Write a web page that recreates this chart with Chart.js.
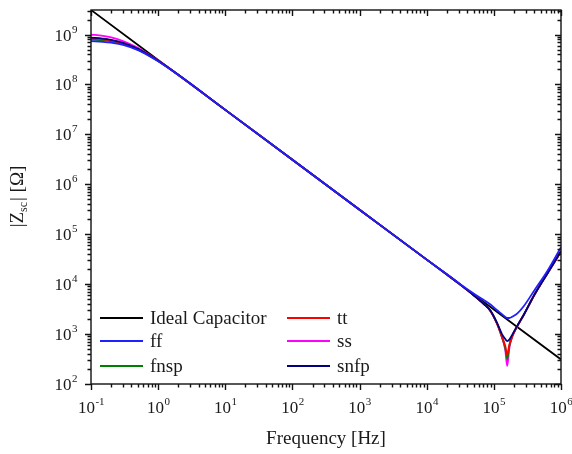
<!DOCTYPE html>
<html>
<head>
<meta charset="utf-8">
<script src="https://cdn.jsdelivr.net/npm/chart.js@4"></script>
<style>
  html, body { margin: 0; padding: 0; background: #fff; }
  canvas { display: block; }
</style>
</head>
<body>
<canvas id="zChart" width="572" height="454"></canvas>
<script>
// frequencies (Hz) shared by the measured curves
const freq = [0.1, 0.15, 0.2, 0.3, 0.5, 0.7, 1, 2, 10, 100, 1000, 1e4, 2e4, 3.16e4, 5e4, 7.1e4, 8.9e4,
    1.12e5, 1.32e5, 1.48e5, 1.58e5, 1.7e5, 1.9e5, 2.24e5, 2.82e5, 3.98e5, 6.3e5, 1e6];

// |Zsc| in ohm
const zTT = [8.4e8, 8.05e8, 7.6e8, 6.7e8, 5.1e8, 4.0e8, 2.97e8, 1.55e8, 3.1e7, 3.1e6, 3.1e5, 3.1e4, 1.56e4, 9.8e3, 6.0e3, 4.0e3, 2.9e3,
    1.6e3, 890, 575, 380, 615, 930, 1.45e3, 2.5e3, 6.0e3, 1.66e4, 4.5e4];
const zFF = [7.4e8, 7.15e8, 6.85e8, 6.2e8, 4.87e8, 3.87e8, 2.92e8, 1.55e8, 3.1e7, 3.1e6, 3.1e5, 3.1e4, 1.58e4, 1.0e4, 6.5e3, 4.8e3, 3.9e3,
    3.0e3, 2.5e3, 2.2e3, 2.1e3, 2.1e3, 2.25e3, 2.6e3, 3.7e3, 7.4e3, 1.86e4, 5.5e4];
const zSS = [1.0e9, 9.4e8, 8.75e8, 7.4e8, 5.4e8, 4.1e8, 3.03e8, 1.56e8, 3.1e7, 3.1e6, 3.1e5, 3.1e4, 1.56e4, 9.8e3, 6.0e3, 4.0e3, 2.9e3,
    1.6e3, 850, 480, 230, 525, 930, 1.45e3, 2.5e3, 6.0e3, 1.66e4, 4.5e4];
const zFNSP = [7.9e8, 7.6e8, 7.3e8, 6.5e8, 5.0e8, 3.95e8, 2.95e8, 1.55e8, 3.1e7, 3.1e6, 3.1e5, 3.1e4, 1.56e4, 9.8e3, 6.0e3, 4.0e3, 2.9e3,
    1.6e3, 870, 520, 316, 575, 930, 1.45e3, 2.5e3, 6.0e3, 1.66e4, 4.5e4];
const zSNFP = [8.65e8, 8.3e8, 7.8e8, 6.8e8, 5.15e8, 4.03e8, 2.98e8, 1.56e8, 3.1e7, 3.1e6, 3.1e5, 3.1e4, 1.56e4, 9.8e3, 6.0e3, 4.0e3, 2.95e3,
    1.66e3, 1.0e3, 795, 725, 775, 1.0e3, 1.48e3, 2.5e3, 6.0e3, 1.66e4, 4.6e4];

// ideal capacitor: straight line, one point per decade
const capFreq = [0.1, 1, 10, 100, 1000, 1e4, 1e5, 1e6];
const capZ = [3.1e9, 3.1e8, 3.1e7, 3.1e6, 3.1e5, 3.1e4, 3.1e3, 310];

// axis ticks (powers of ten)
const xTickExp = [-1, 0, 1, 2, 3, 4, 5, 6];
const yTickExp = [2, 3, 4, 5, 6, 7, 8, 9];

// legend order: first column, then second column
const legendOrder = ["Ideal Capacitor", "ff", "fnsp", "tt", "ss", "snfp"];

function pares(xs, ys) {
    return xs.map(function (x, i) { return { x: x, y: ys[i] }; });
}

function serie(label, xs, ys, cor) {
    return {
        label: label,
        data: pares(xs, ys),
        borderColor: cor,
        backgroundColor: cor,
        borderWidth: 1.8,
        pointRadius: 0,
        fill: false,
        cubicInterpolationMode: "monotone"
    };
}

const SERIF = '"Liberation Serif", "Times New Roman", serif';
const TEXT = "#1a1a1a";

// frame, ticks, tick labels and titles
const eixos = {
    id: "eixos",
    afterDatasetsDraw: function (chart) {
        const ctx = chart.ctx;
        const a = chart.chartArea;
        const sx = chart.scales.x;
        const sy = chart.scales.y;

        ctx.save();
        ctx.strokeStyle = "#111";
        ctx.lineWidth = 1.4;
        ctx.strokeRect(a.left, a.top, a.right - a.left, a.bottom - a.top);

        ctx.beginPath();
        // x ticks: out at bottom, in at top
        for (let d = -1; d <= 6; d++) {
            for (let k = 1; k <= 9; k++) {
                const v = k * Math.pow(10, d);
                if (v > sx.max * 1.0001) break;
                const px = Math.round(sx.getPixelForValue(v)) + 0.5;
                const len = k === 1 ? 6 : 3.5;
                ctx.moveTo(px, a.bottom);
                ctx.lineTo(px, a.bottom + len);
                ctx.moveTo(px, a.top);
                ctx.lineTo(px, a.top + len);
            }
        }
        // y ticks: out at left, in at right
        for (let d = 2; d <= 9; d++) {
            for (let k = 1; k <= 9; k++) {
                const v = k * Math.pow(10, d);
                if (v > sy.max * 1.0001) break;
                const py = Math.round(sy.getPixelForValue(v)) + 0.5;
                const len = k === 1 ? 6 : 3.5;
                ctx.moveTo(a.left - len, py);
                ctx.lineTo(a.left, py);
                ctx.moveTo(a.right - len, py);
                ctx.lineTo(a.right, py);
            }
        }
        ctx.stroke();

        ctx.fillStyle = TEXT;
        ctx.textBaseline = "alphabetic";
        const baseFont = "17px " + SERIF;
        const expFont = "11px " + SERIF;

        function larguraPotencia(e) {
            ctx.font = baseFont;
            const wb = ctx.measureText("10").width;
            ctx.font = expFont;
            const we = ctx.measureText(e < 0 ? "-" + (-e) : String(e)).width;
            return [wb, we];
        }

        function potencia(e, x, y) {
            const w = larguraPotencia(e);
            ctx.textAlign = "left";
            ctx.font = baseFont;
            ctx.fillText("10", x, y);
            ctx.font = expFont;
            ctx.fillText(e < 0 ? "-" + (-e) : String(e), x + w[0] + 0.5, y - 8);
        }

        xTickExp.forEach(function (e) {
            const px = sx.getPixelForValue(Math.pow(10, e));
            const w = larguraPotencia(e);
            potencia(e, px - (w[0] + w[1]) / 2, 413);
        });

        yTickExp.forEach(function (e) {
            const py = sy.getPixelForValue(Math.pow(10, e));
            const w = larguraPotencia(e);
            potencia(e, 77 - (w[0] + w[1]), py + 6);
        });

        // x title
        ctx.font = "19px " + SERIF;
        ctx.textAlign = "center";
        ctx.fillText("Frequency [Hz]", (a.left + a.right) / 2, 444);

        // y title |Zsc| [Ω]
        ctx.translate(23, 197);
        ctx.rotate(-Math.PI / 2);
        const big = "19px " + SERIF;
        const small = "12px " + SERIF;
        ctx.font = big;
        const w1 = ctx.measureText("|Z").width;
        const w3 = ctx.measureText("| [\u03A9]").width;
        ctx.font = small;
        const w2 = ctx.measureText("sc").width;
        let x0 = -(w1 + w2 + w3) / 2;
        ctx.textAlign = "left";
        ctx.font = big;
        ctx.fillText("|Z", x0, 0);
        ctx.font = small;
        ctx.fillText("sc", x0 + w1, 4);
        ctx.font = big;
        ctx.fillText("| [\u03A9]", x0 + w1 + w2 + 1, 0);
        ctx.restore();
    }
};

// legend inside the plot, two columns of three rows
const legenda = {
    id: "legenda",
    afterDraw: function (chart) {
        const ctx = chart.ctx;
        const colX = [100, 287];
        const rowY = [318, 341, 366];
        ctx.save();
        ctx.font = "19px " + SERIF;
        ctx.textBaseline = "middle";
        ctx.textAlign = "left";
        legendOrder.forEach(function (nome, i) {
            const ds = chart.data.datasets.find(function (d) { return d.label === nome; });
            const x = colX[Math.floor(i / 3)];
            const y = rowY[i % 3];
            ctx.strokeStyle = ds.borderColor;
            ctx.lineWidth = 2;
            ctx.beginPath();
            ctx.moveTo(x, y);
            ctx.lineTo(x + 43, y);
            ctx.stroke();
            ctx.fillStyle = TEXT;
            ctx.fillText(nome, x + 50, y + 1);
        });
        ctx.restore();
    }
};

const ctx = document.getElementById("zChart");

new Chart(ctx, {
    type: "line",
    data: {
        datasets: [
            serie("ff", freq, zFF, "#2020ff"),
            serie("snfp", freq, zSNFP, "#000080"),
            serie("tt", freq, zTT, "#ff0000"),
            serie("fnsp", freq, zFNSP, "#008000"),
            serie("ss", freq, zSS, "#ff00ff"),
            serie("Ideal Capacitor", capFreq, capZ, "#000000")
        ]
    },
    options: {
        responsive: false,
        animation: false,
        layout: { padding: { left: 91, right: 11, top: 10, bottom: 70 } },
        scales: {
            x: { type: "logarithmic", min: 0.1, max: 1e6, display: false },
            y: { type: "logarithmic", min: 100, max: 3.1e9, display: false }
        },
        plugins: {
            legend: { display: false },
            tooltip: { enabled: false }
        }
    },
    plugins: [eixos, legenda]
});
</script>
</body>
</html>
